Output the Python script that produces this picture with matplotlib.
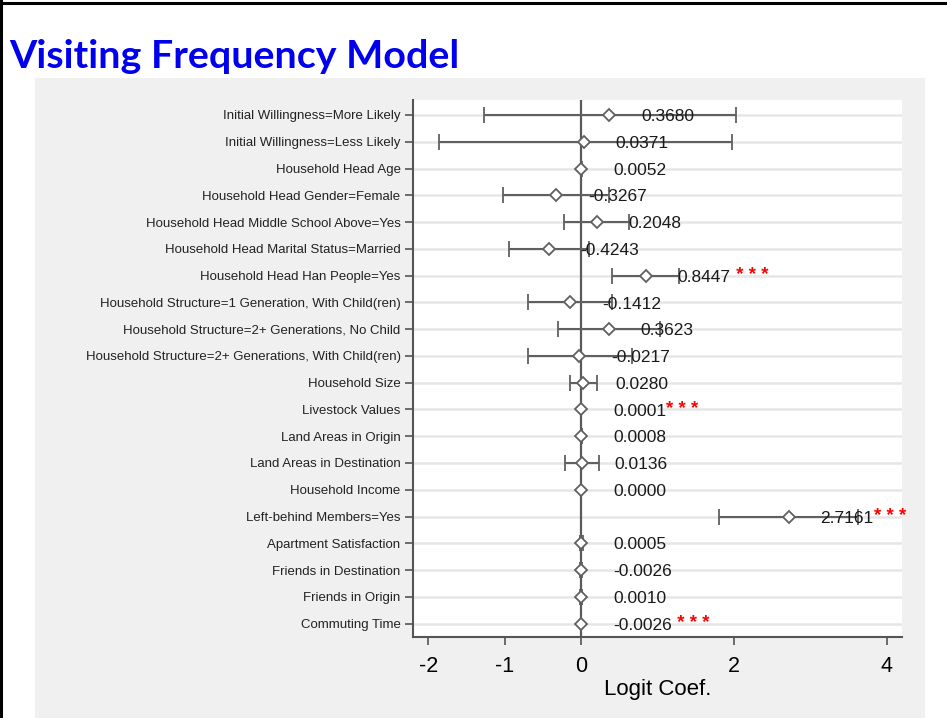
import matplotlib.pyplot as plt
from matplotlib.patches import Rectangle
from matplotlib.lines import Line2D

# variables, coefficients, confidence bounds and significance marks
variables = [
    "Initial Willingness=More Likely",
    "Initial Willingness=Less Likely",
    "Household Head Age",
    "Household Head Gender=Female",
    "Household Head Middle School Above=Yes",
    "Household Head Marital Status=Married",
    "Household Head Han People=Yes",
    "Household Structure=1 Generation, With Child(ren)",
    "Household Structure=2+ Generations, No Child",
    "Household Structure=2+ Generations, With Child(ren)",
    "Household Size",
    "Livestock Values",
    "Land Areas in Origin",
    "Land Areas in Destination",
    "Household Income",
    "Left-behind Members=Yes",
    "Apartment Satisfaction",
    "Friends in Destination",
    "Friends in Origin",
    "Commuting Time",
]
coefs = [0.3680, 0.0371, 0.0052, -0.3267, 0.2048, -0.4243, 0.8447, -0.1412,
         0.3623, -0.0217, 0.0280, 0.0001, 0.0008, 0.0136, 0.0000, 2.7161,
         0.0005, -0.0026, 0.0010, -0.0026]
ci_low = [-1.27, -1.86, -0.005, -1.02, -0.22, -0.95, 0.41, -0.69,
          -0.30, -0.70, -0.15, 0.0000, -0.004, -0.21, -0.0001, 1.81,
          -0.02, -0.012, -0.009, -0.004]
ci_high = [2.03, 1.97, 0.015, 0.37, 0.63, 0.10, 1.28, 0.41,
           1.03, 0.66, 0.21, 0.0002, 0.006, 0.24, 0.0001, 3.62,
           0.021, 0.007, 0.011, -0.0012]
stars = ["", "", "", "", "", "", " * * *", "", "", "", "", "* * *", "", "",
         "", "* * *", "", "", "", " * * *"]
xticks = [-2, -1, 0, 2, 4]

fig = plt.figure(figsize=(9.47, 7.18), dpi=100, facecolor="white")

# grey panel behind the chart and the slide frame
fig.patches.append(Rectangle((35 / 947, 0), (925 - 35) / 947, 640 / 718,
                             transform=fig.transFigure, facecolor="#f0f0f0",
                             edgecolor="none", zorder=-5))
fig.lines.append(Line2D([0, 1], [1 - 2.5 / 718] * 2, transform=fig.transFigure,
                        color="black", lw=2.2))
fig.lines.append(Line2D([1 / 947] * 2, [0, 1], transform=fig.transFigure,
                        color="black", lw=2.2))

fig.text(9 / 947, 1 - 57 / 718, "Visiting Frequency Model", fontsize=28.4,
         fontweight="bold", color="#0000ee", family="Lato", va="center", ha="left")

ax = fig.add_axes([413 / 947, 81 / 718, 489 / 947, 537 / 718])
ax.set_facecolor("white")

ypos = list(range(len(variables)))
xerr = [[c - lo for c, lo in zip(coefs, ci_low)],
        [hi - c for c, hi in zip(coefs, ci_high)]]

ax.axvline(0, color="#5a5a5a", lw=1.6, zorder=2)
ax.errorbar(coefs, ypos, xerr=xerr, fmt="none", ecolor="#606060",
            elinewidth=1.5, capsize=6, capthick=1.3, zorder=3)
ax.plot(coefs, ypos, linestyle="none", marker="D", markersize=6.5,
        markerfacecolor="white", markeredgecolor="#606060",
        markeredgewidth=1.3, zorder=4)

for c, y, s in zip(coefs, ypos, stars):
    t = ax.annotate(f"{c:.4f}", xy=(c, y), xytext=(23, -1.2),
                    textcoords="offset points", va="center", ha="left",
                    fontsize=12.5, family="Liberation Sans", color="#1a1a1a",
                    zorder=5)
    if s:
        ax.annotate(s, xy=(1, 0.6), xycoords=t, va="center", ha="left",
                    fontsize=13.5, family="Liberation Sans", color="red",
                    fontweight="bold", zorder=5)

ax.set_yticks(ypos)
ax.set_yticklabels(variables, fontsize=9.5, family="Liberation Sans",
                   color="#222222")
ax.set_ylim(19.5, -0.56)
ax.set_xlim(-2.2, 4.2)
ax.set_xticks(xticks)
ax.set_xticklabels([str(v) for v in xticks], fontsize=15.5,
                   family="Liberation Sans")
ax.set_xlabel("Logit Coef.", fontsize=16, family="Liberation Sans", labelpad=1)

ax.grid(axis="y", color="#e6e6e6", lw=1.8, zorder=1)
ax.set_axisbelow(True)
for side in ("top", "right"):
    ax.spines[side].set_visible(False)
for side in ("left", "bottom"):
    ax.spines[side].set_color("#555555")
    ax.spines[side].set_linewidth(1.5)
ax.tick_params(axis="y", length=6, width=1.2, color="#555555", pad=3)
ax.tick_params(axis="x", length=6, width=1.2, color="#555555", pad=8)

fig.savefig("out.png", dpi=100, facecolor="white")
